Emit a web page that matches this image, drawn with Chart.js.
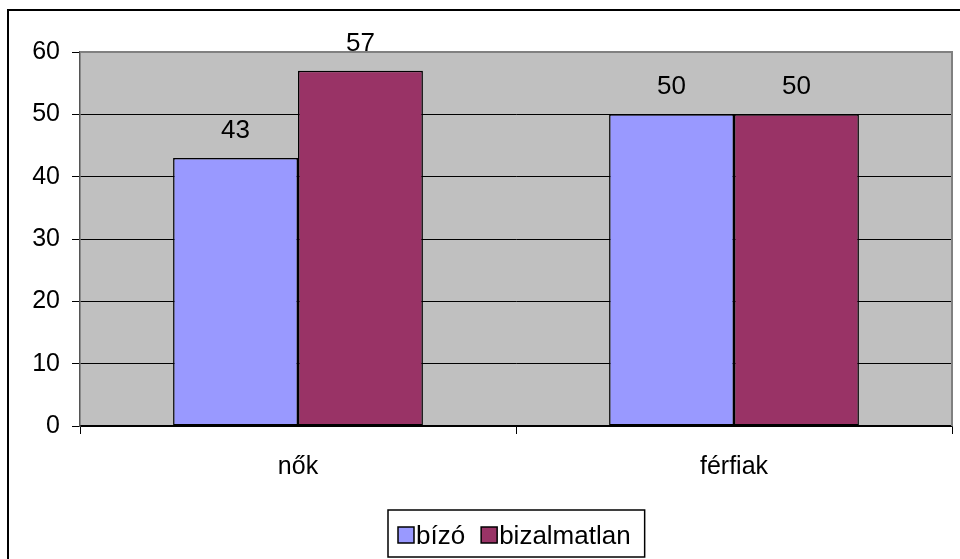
<!DOCTYPE html>
<html>
<head>
<meta charset="utf-8">
<script src="https://cdn.jsdelivr.net/npm/chart.js@4/dist/chart.umd.min.js"></script>
<style>
html,body{margin:0;padding:0;background:#fff;}
#wrap{width:960px;height:559px;position:relative;}
</style>
</head>
<body>
<div id="wrap"><canvas id="c" width="960" height="559"></canvas></div>
<script>
const categories = ['nők', 'férfiak'];
const seriesNames = ['bízó', 'bizalmatlan'];
const bizoValues = [43, 50];
const bizalmatlanValues = [57, 50];
const yTicks = [0, 10, 20, 30, 40, 50, 60];

const FONT = '"Liberation Sans", Arial, sans-serif';

const decorPlugin = {
  id: 'decor',
  beforeDraw(chart) {
    const {ctx, chartArea: a} = chart;
    ctx.save();
    ctx.fillStyle = '#C0C0C0';
    ctx.fillRect(a.left, a.top, a.right - a.left, a.bottom - a.top);
    ctx.restore();
  },
  afterDraw(chart) {
    const {ctx, chartArea: a} = chart;
    ctx.save();
    ctx.strokeStyle = '#808080';
    ctx.lineWidth = 2;
    ctx.beginPath();
    ctx.moveTo(a.left, a.top);
    ctx.lineTo(a.right, a.top);
    ctx.lineTo(a.right, a.bottom);
    ctx.stroke();
    ctx.strokeStyle = '#000';
    ctx.lineWidth = 2;
    ctx.strokeRect(8, 10, 1200, 1200);

    ctx.fillStyle = '#000';
    ctx.font = '26px ' + FONT;
    ctx.textAlign = 'center';
    ctx.textBaseline = 'alphabetic';
    chart.data.datasets.forEach((ds, di) => {
      const meta = chart.getDatasetMeta(di);
      meta.data.forEach((bar, i) => {
        ctx.fillText(String(ds.data[i]), bar.x, bar.y - 20);
      });
    });

    ctx.font = '26px ' + FONT;
    const box = 16, gapBT = 2, itemGap = 16, padL = 10, padR = 14;
    const widths = chart.data.datasets.map(ds => ctx.measureText(ds.label).width);
    let total = padL + padR;
    widths.forEach((w, i) => { total += box + gapBT + w + (i < widths.length - 1 ? itemGap : 0); });
    const cx = (a.left + a.right) / 2;
    const lx = Math.round(cx - total / 2);
    const ly = 510, lh = 47;
    ctx.fillStyle = '#fff';
    ctx.fillRect(lx, ly, total, lh);
    ctx.strokeStyle = '#000';
    ctx.lineWidth = 1.5;
    ctx.strokeRect(lx, ly, total, lh);
    let x = lx + padL;
    ctx.textAlign = 'left';
    chart.data.datasets.forEach((ds, i) => {
      ctx.fillStyle = ds.backgroundColor;
      ctx.fillRect(x, 527, box, box);
      ctx.strokeStyle = '#000';
      ctx.lineWidth = 1.5;
      ctx.strokeRect(x, 527, box, box);
      x += box + gapBT;
      ctx.fillStyle = '#000';
      ctx.fillText(ds.label, x, 544);
      x += widths[i] + itemGap;
    });
    ctx.restore();
  }
};

new Chart(document.getElementById('c'), {
  type: 'bar',
  data: {
    labels: categories,
    datasets: [
      { label: seriesNames[0], data: bizoValues, backgroundColor: '#9999FF', borderColor: '#000', borderWidth: 1.5, borderSkipped: false },
      { label: seriesNames[1], data: bizalmatlanValues, backgroundColor: '#993366', borderColor: '#000', borderWidth: 1.5, borderSkipped: false }
    ]
  },
  options: {
    responsive: false,
    animation: false,
    devicePixelRatio: 1,
    layout: { padding: { top: 52, right: 8, left: 0, bottom: 0 } },
    plugins: { legend: { display: false }, tooltip: { enabled: false } },
    datasets: { bar: { categoryPercentage: 0.573, barPercentage: 1.0 } },
    scales: {
      x: {
        offset: true,
        grid: { display: true, drawOnChartArea: false, drawTicks: true, tickLength: 8, color: '#000', offset: true },
        border: { display: true, color: '#000', width: 1.5 },
        ticks: { color: '#000', font: { size: 25, family: FONT }, padding: 18, maxRotation: 0 },
        afterFit(s) { s.height = 133; }
      },
      y: {
        min: 0, max: 60,
        afterBuildTicks(s) { s.ticks = yTicks.map(v => ({ value: v })); },
        grid: { color: '#000', lineWidth: 1, drawTicks: true, tickLength: 8, tickColor: '#000' },
        border: { display: true, color: '#555', width: 1.5 },
        ticks: { color: '#000', font: { size: 25, family: FONT }, padding: 12 },
        afterFit(s) { s.width = 80; }
      }
    }
  },
  plugins: [decorPlugin]
});
</script>
</body>
</html>
